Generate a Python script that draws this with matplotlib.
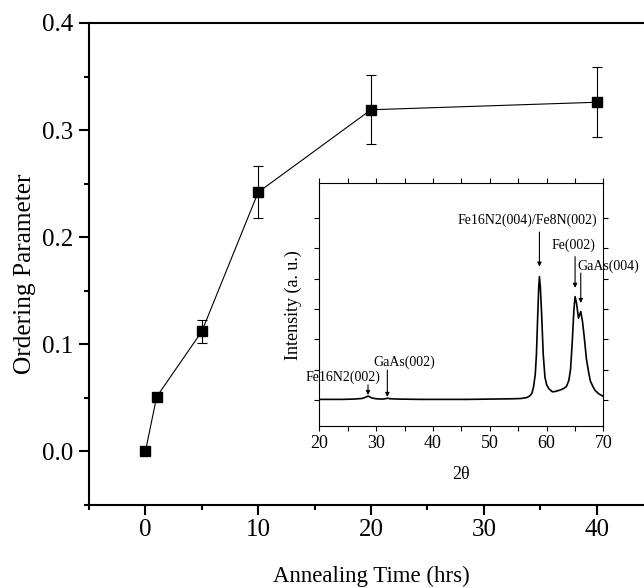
import matplotlib
matplotlib.use("Agg")
import matplotlib.pyplot as plt
from matplotlib.ticker import MultipleLocator

plt.rcParams['font.family'] = ['Liberation Serif', 'DejaVu Serif']

# Main data
anneal_time = [0, 1, 5, 10, 20, 40]
order_param = [0.0, 0.051, 0.112, 0.242, 0.319, 0.326]
order_err = [0.0, 0.0, 0.011, 0.0245, 0.032, 0.0325]

# Inset XRD spectrum
two_theta = [20.0, 22.0, 24.0, 26.0, 27.5, 28.0, 28.6, 29.2, 30.0, 31.0, 31.6, 32.0,
             32.5, 34.0, 38.0, 42.0, 46.0, 50.0, 54.0, 55.5, 56.5, 57.0, 57.4, 57.7,
             58.0, 58.2, 58.45, 58.6, 58.73, 58.9, 59.1, 59.4, 59.7, 60.0, 60.4, 61.0,
             61.5, 62.4, 63.0, 63.5, 63.9, 64.2, 64.5, 64.8, 65.0, 65.25, 65.6, 66.0,
             66.3, 66.6, 67.0, 67.4, 67.7, 68.2, 68.6, 69.2, 69.7, 70.0]
intensity = [0.02, 0.02, 0.02, 0.03, 0.05, 0.08, 0.13, 0.07, 0.04, 0.03, 0.04, 0.06,
             0.04, 0.03, 0.02, 0.02, 0.02, 0.03, 0.04, 0.05, 0.08, 0.13, 0.22, 0.44,
             0.85, 1.5, 2.9, 3.7, 4.07, 3.7, 2.9, 1.5, 0.75, 0.5, 0.37, 0.27,
             0.28, 0.33, 0.38, 0.45, 0.65, 1.0, 1.9, 3.0, 3.41, 3.2, 2.7, 2.92,
             2.6, 2.1, 1.35, 0.9, 0.62, 0.42, 0.3, 0.2, 0.15, 0.11]

peak_labels = ["Fe16N2(002)", "GaAs(002)", "Fe16N2(004)/Fe8N(002)", "Fe(002)", "GaAs(004)"]
peak_pos = [28.57, 31.97, 58.73, 65.0, 66.0]
arrow_top = [0.5, 0.99, 5.54, 4.73, 4.19]
arrow_tip = [0.165, 0.1, 4.4, 3.7, 3.2]
label_x = [24.2, 34.9, 56.6, 64.67, 70.8]
label_y = [0.76, 1.26, 5.94, 5.12, 4.4]

fig = plt.figure(figsize=(6.44, 5.88), dpi=100)
ax = fig.add_axes([0.1382, 0.1412, 0.8758, 0.8197])

ax.errorbar(anneal_time, order_param, yerr=order_err, fmt='s-', color='black',
            ms=7.2, lw=0.8, elinewidth=0.8, capsize=3.4, capthick=0.8)
ax.set_xlim(-5, 45)
ax.set_ylim(-0.05, 0.4)
ax.xaxis.set_major_locator(MultipleLocator(10))
ax.xaxis.set_minor_locator(MultipleLocator(5))
ax.yaxis.set_major_locator(MultipleLocator(0.1))
ax.yaxis.set_minor_locator(MultipleLocator(0.05))
ax.yaxis.set_major_formatter(matplotlib.ticker.FormatStrFormatter('%.1f'))
ax.tick_params(which='major', direction='out', length=7, width=1.5, labelsize=18, pad=4)
ax.tick_params(which='minor', direction='out', length=3.5, width=1.5)
ax.tick_params(axis='x', which='major', pad=3)
for s in ['left', 'bottom', 'top']:
    ax.spines[s].set_linewidth(1.5)
ax.spines['right'].set_visible(False)
ax.set_xlabel('Annealing Time (hrs)', fontsize=16.5, labelpad=18)
ax.set_ylabel('Ordering Parameter', fontsize=18.3, labelpad=5)
ax.yaxis.label.set_y(0.479)

# Inset
ax_in = fig.add_axes([0.4958, 0.2755, 0.4413, 0.4128])
ax_in.plot(two_theta, intensity, color='black', lw=1.2)
ax_in.set_xlim(20, 70)
ax_in.set_ylim(-0.858, 7.15)
ax_in.xaxis.set_major_locator(MultipleLocator(10))
ax_in.xaxis.set_minor_locator(MultipleLocator(5))
ax_in.set_yticks([0, 1, 2, 3, 4, 5, 6])
ax_in.set_yticklabels([])
ax_in.tick_params(which='both', direction='out', length=3.5, width=0.8,
                  top=True, right=True, labelsize=13, pad=3)
for s in ax_in.spines.values():
    s.set_linewidth(0.8)
ax_in.set_xlabel('2θ', fontsize=13, labelpad=10)
ax_in.set_ylabel('Intensity (a. u.)', fontsize=13, labelpad=6)

for lab, px, at, tip, lx, ly in zip(peak_labels, peak_pos, arrow_top, arrow_tip, label_x, label_y):
    ax_in.annotate('', xy=(px, tip), xytext=(px, at),
                   arrowprops=dict(arrowstyle='-|>', color='black', lw=0.8,
                                   mutation_scale=6, shrinkA=0, shrinkB=0))
    ax_in.text(lx, ly, lab, fontsize=10, ha='center', va='center', clip_on=False)

fig.savefig('out.png', dpi=100)
